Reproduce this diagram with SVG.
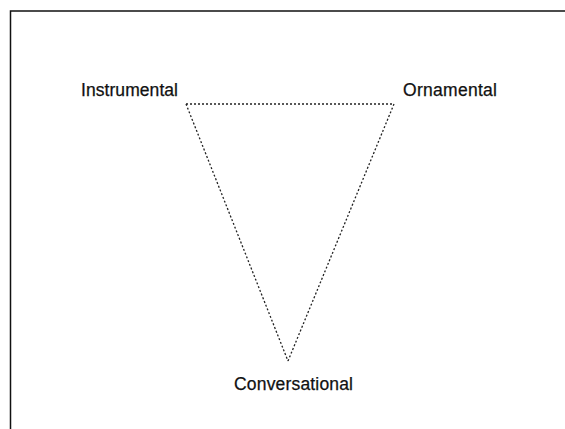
<svg xmlns="http://www.w3.org/2000/svg" width="565" height="429" viewBox="0 0 565 429">
<style>
.lbl{font-family:"Liberation Sans",Arial,sans-serif;font-size:17.5px;fill:#111;stroke:#111;stroke-width:0.25}
.edge{fill:none;stroke:#222;stroke-width:1.3;stroke-dasharray:2 2}
.frame{fill:none;stroke:#111;stroke-width:1.5}
</style>
<rect width="565" height="429" fill="#fff"/>
<path class="frame" d="M10.5 429 V11 H565"/>
<g id="connectors">
<path class="edge" d="M186 104 H394"/>
<path class="edge" d="M186 104 L288 361"/>
<path class="edge" d="M394 104 L288 361"/>
</g>
<g id="instrumental"><text class="lbl" x="81" y="96" textLength="97">Instrumental</text></g>
<g id="ornamental"><text class="lbl" x="403" y="96" textLength="94">Ornamental</text></g>
<g id="conversational"><text class="lbl" x="234" y="390" textLength="119">Conversational</text></g>
</svg>
